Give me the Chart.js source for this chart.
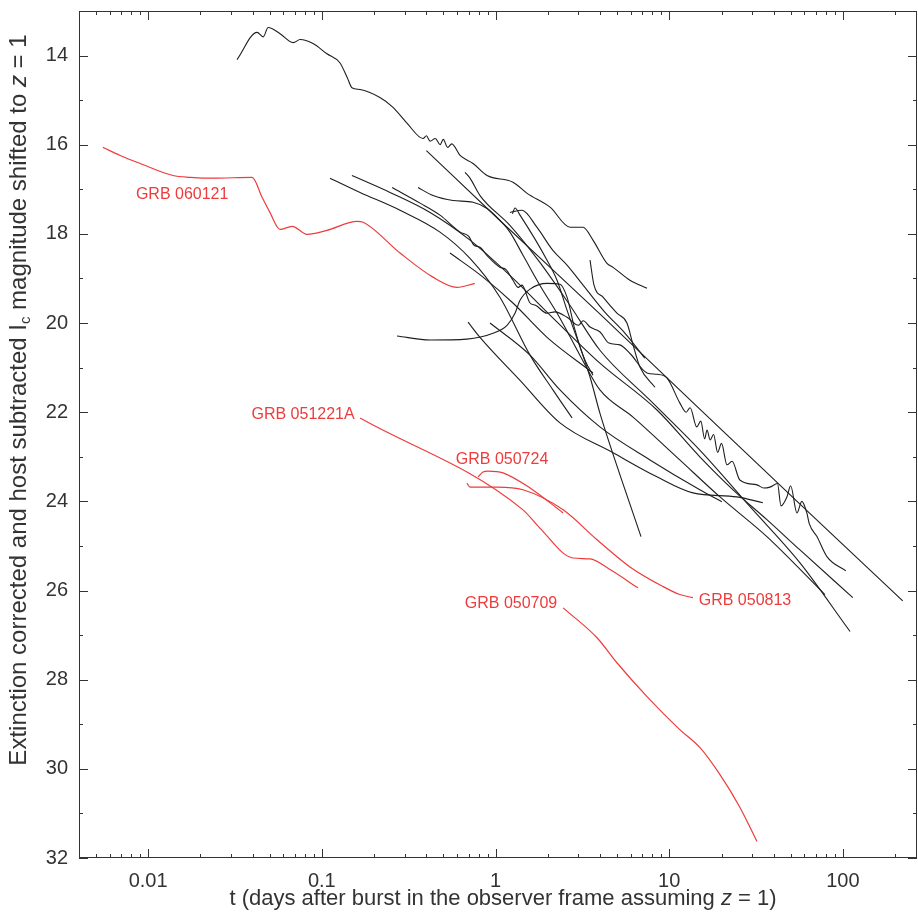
<!DOCTYPE html>
<html>
<head>
<meta charset="utf-8">
<script src="https://cdn.jsdelivr.net/npm/chart.js@4.4.1/dist/chart.umd.min.js"></script>
<style>
  body { margin: 0; background: #fff; }
  canvas { display: block; }
</style>
</head>
<body>
<canvas id="lcChart" width="918" height="915"></canvas>
<script>
// axis ticks
const xTicks = [0.01, 0.1, 1, 10, 100];
const yTicks = [14, 16, 18, 20, 22, 24, 26, 28, 30, 32];

// red light curves (short bursts), [t in days, mag]
const grb060121 = [[0.0055,16.06],[0.0069,16.24],[0.009,16.42],[0.0139,16.69],[0.0175,16.73],[0.0237,16.75],[0.0397,16.73],[0.0453,17.18],[0.050,17.5],[0.0575,17.90],[0.0675,17.83],[0.0822,18.01],[0.107,17.92],[0.160,17.72],[0.173,17.74],[0.282,18.43],[0.436,18.97],[0.60,19.20],[0.76,19.11]];
const grb051221A = [[0.166,22.13],[1.44,24.19],[1.8,24.6],[2.79,25.27],[3.5,25.29],[4.56,25.53],[6.61,25.94]];
const grb050724 = [[0.793,23.45],[0.847,23.34],[0.905,23.32],[1.105,23.36],[1.58,23.70],[2.45,24.26]];
const grb050813 = [[0.685,23.59],[0.713,23.68],[1.02,23.68],[1.44,23.74],[2.45,24.19],[3.84,24.86],[5.94,25.47],[9.2,25.91],[11.5,26.09],[13.7,26.16]];
const grb050709 = [[2.45,26.39],[3.84,27.06],[5.0,27.62],[7.45,28.38],[11.5,29.12],[15.0,29.52],[19.6,30.13],[25.5,30.86],[32.0,31.63]];

// black light curves (long bursts)
const lcA = [[0.0325,14.09],[0.0424,13.48],[0.046,13.58],[0.0491,13.37],[0.0575,13.51],[0.0685,13.71],[0.075,13.64],[0.089,13.73],[0.107,13.96],[0.127,14.16],[0.14,14.49],[0.149,14.72],[0.166,14.76],[0.216,14.94],[0.257,15.16],[0.31,15.52],[0.383,15.86],[0.40,15.80],[0.42,15.92],[0.45,15.86],[0.48,16.0],[0.50,15.88],[0.53,16.06],[0.56,15.98],[0.625,16.24],[0.743,16.42],[0.894,16.69],[1.26,16.84],[1.52,17.09],[2.06,17.40],[2.69,17.85],[3.19,17.85],[3.64,18.14],[4.38,18.66],[4.75,18.75],[5.94,19.04],[7.45,19.22]];
const lcB = [[0.40,16.13],[1.06,17.70],[4.0,19.80],[15.0,21.93],[56.6,24.06],[221,26.23]];
const lcJ = [[0.254,16.96],[0.368,17.31],[0.479,17.58],[0.625,17.96],[0.70,18.05],[0.75,18.25],[0.814,18.30],[0.9,18.5],[1.06,18.75],[1.15,18.8],[1.26,19.04],[1.35,19.2],[1.42,19.15],[1.58,19.55],[1.7,19.6],[1.98,19.78],[2.2,19.75],[2.58,19.87],[3.0,20.05],[3.2,19.95],[3.5,20.09],[4.0,20.2],[4.5,20.45],[5.2,20.49],[6.0,20.7],[7.45,21.12],[8.5,21.15],[9.7,21.23],[11.5,21.79],[12.5,22.0],[13.2,21.9],[14.4,22.33],[15.2,22.2],[16,22.6],[16.5,22.4],[17.2,22.62],[18,22.5],[19,22.9],[20,22.7],[21.5,23.18],[23,23.1],[25.5,23.52],[32,23.63],[35,23.7],[38,23.68],[42,23.6],[44,24.1],[47.6,23.9],[50,23.65],[54.4,24.26],[58,24.0],[62,24.26],[64,24.5],[70.9,24.79],[80.9,25.24],[104,25.56]];
const lcK = [[0.667,16.62],[0.713,16.75],[0.814,17.14],[1.21,17.81],[1.80,18.64],[2.68,19.60],[3.99,20.61],[7.75,21.73],[15.0,22.85],[29.2,24.12],[56.6,25.38],[110,26.92]];
const lcC1 = [[0.1115,16.75],[0.166,17.07],[0.282,17.47],[0.479,17.96],[0.713,18.55],[1.06,19.42],[1.58,20.72],[2.14,21.50],[2.76,22.13]];
const lcC2 = [[0.149,16.69],[0.247,17.07],[0.42,17.52],[0.713,18.14],[1.21,18.93],[2.06,19.82],[3.99,20.90],[8.5,21.95],[15.0,23.00],[23.3,23.74],[36.5,24.41],[56.6,25.09],[114,26.16]];
const lcC3 = [[0.358,16.96],[0.437,17.14],[0.569,17.25],[0.742,17.29],[0.894,17.43],[1.02,17.63],[1.21,17.96],[1.44,18.48],[1.80,19.15],[2.35,19.89],[3.06,20.72],[3.99,21.50],[6.19,22.11],[11.5,23.07],[19.6,23.90],[36.5,24.79],[78.8,26.09]];
const lcD = [[0.271,20.29],[0.42,20.38],[0.685,20.36],[0.967,20.23],[1.165,20.05],[1.295,19.78],[1.384,19.49],[1.58,19.24],[1.98,19.11],[2.35,19.13],[2.58,19.42],[2.87,20.16],[3.27,20.83],[3.64,21.17]];
const lcE = [[0.695,19.98],[0.814,20.32],[1.38,21.28],[2.35,22.24],[4.75,22.91],[8.5,23.45],[13.7,23.81],[24.5,23.90],[34.6,24.03]];
const lcF = [[0.547,18.43],[0.847,18.97],[1.26,19.55],[1.98,20.32],[3.64,21.12]];
const lcG = [[0.93,20.00],[1.58,20.72],[2.35,21.50],[3.99,22.33],[7.75,23.07],[15.0,23.74],[20.1,24.01]];
const lcH = [[1.21,17.52],[1.42,17.47],[1.73,17.85],[2.14,18.37],[2.58,18.70],[3.27,19.20],[4.27,19.76],[5.57,20.23],[7.25,20.79]];
const lcS1 = [[1.25,17.55],[1.295,17.42],[1.384,17.58],[1.98,18.59],[2.26,19.04],[2.58,19.71],[3.5,21.21],[3.99,22.02],[5.21,23.41],[6.88,24.79]];
const lcS2 = [[3.5,18.59],[3.69,19.15],[4.16,19.42],[5.0,19.78],[5.71,20.0],[6.19,20.49],[6.79,20.99],[8.28,21.44]];

const redCurves = [grb060121, grb051221A, grb050724, grb050813, grb050709];
const blackCurves = [lcA, lcB, lcJ, lcK, lcC1, lcC2, lcC3, lcD, lcE, lcF, lcG, lcH, lcS1, lcS2];

// burst labels
const labelNames = ['GRB 060121', 'GRB 051221A', 'GRB 050724', 'GRB 050709', 'GRB 050813'];
const labelT = [0.0157, 0.078, 1.09, 1.228, 27.3];
const labelMag = [17.11, 22.06, 23.07, 26.30, 26.23];

const RED = '#ee3b3b';
const FONT = "'Liberation Sans', Arial, sans-serif";

const toPoints = (arr) => arr.map(p => ({ x: p[0], y: p[1] }));

const datasets = [
  ...blackCurves.map(c => ({ data: toPoints(c), borderColor: '#1e1e1e', borderWidth: 1.1 })),
  ...redCurves.map(c => ({ data: toPoints(c), borderColor: RED, borderWidth: 1.2 }))
].map(d => ({ ...d, showLine: true, pointRadius: 0, cubicInterpolationMode: 'monotone', fill: false }));

const frame = {
  id: 'frame',
  afterDraw(chart) {
    const { ctx, chartArea: a, scales: { x, y } } = chart;
    ctx.save();
    ctx.strokeStyle = '#333';
    ctx.lineWidth = 1;
    ctx.strokeRect(a.left + 0.5, a.top + 0.5, a.right - a.left - 1, a.bottom - a.top - 1);

    ctx.beginPath();
    // x ticks, top and bottom, pointing inward
    for (let e = -3; e <= 2; e++) {
      for (let k = 1; k <= 9; k++) {
        const v = k * Math.pow(10, e);
        if (v < x.min || v > x.max) continue;
        const px = Math.round(x.getPixelForValue(v)) + 0.5;
        const len = k === 1 ? 9 : 4;
        ctx.moveTo(px, a.bottom); ctx.lineTo(px, a.bottom - len);
        ctx.moveTo(px, a.top); ctx.lineTo(px, a.top + len);
      }
    }
    // y ticks, left and right
    for (let m = 13; m <= 32; m++) {
      const py = Math.round(y.getPixelForValue(m)) + 0.5;
      const len = m % 2 === 0 ? 9 : 4;
      ctx.moveTo(a.left, py); ctx.lineTo(a.left + len, py);
      ctx.moveTo(a.right, py); ctx.lineTo(a.right - len, py);
    }
    ctx.stroke();

    // axis titles
    ctx.fillStyle = '#333';
    ctx.textBaseline = 'middle';
    const drawParts = (parts, cx, cy) => {
      let total = 0;
      parts.forEach(p => { ctx.font = p.font; p.w = ctx.measureText(p.text).width; total += p.w; });
      let pos = cx - total / 2;
      parts.forEach(p => {
        ctx.font = p.font;
        ctx.textAlign = 'left';
        ctx.fillText(p.text, pos, cy + (p.dy || 0));
        pos += p.w;
      });
    };
    drawParts([
      { text: 't (days after burst in the observer frame assuming ', font: `22px ${FONT}` },
      { text: 'z', font: `italic 22px ${FONT}` },
      { text: ' = 1)', font: `22px ${FONT}` }
    ], 503, 899);

    ctx.save();
    ctx.translate(19, 400);
    ctx.rotate(-Math.PI / 2);
    drawParts([
      { text: 'Extinction corrected and host subtracted I', font: `24px ${FONT}` },
      { text: 'c', font: `15px ${FONT}`, dy: 7 },
      { text: ' magnitude shifted to ', font: `24px ${FONT}` },
      { text: 'z', font: `italic 24px ${FONT}` },
      { text: ' = 1', font: `24px ${FONT}` }
    ], 0, 0);
    ctx.restore();

    // burst labels
    ctx.fillStyle = RED;
    ctx.font = `16px ${FONT}`;
    ctx.textAlign = 'center';
    labelNames.forEach((name, i) => {
      ctx.fillText(name, x.getPixelForValue(labelT[i]), y.getPixelForValue(labelMag[i]));
    });
    ctx.restore();
  }
};

new Chart(document.getElementById('lcChart'), {
  type: 'scatter',
  data: { datasets },
  options: {
    responsive: false,
    devicePixelRatio: 1,
    animation: false,
    layout: { padding: { top: 11, right: 1, left: 0, bottom: 0 } },
    plugins: { legend: { display: false }, tooltip: { enabled: false } },
    scales: {
      x: {
        type: 'logarithmic',
        min: 0.004,
        max: 267,
        grid: { display: false, drawTicks: false },
        border: { display: false },
        afterBuildTicks: (scale) => { scale.ticks = xTicks.map(v => ({ value: v })); },
        afterFit: (scale) => { scale.height = 57; scale.paddingLeft = 0; scale.paddingRight = 0; },
        ticks: {
          autoSkip: false,
          maxRotation: 0,
          padding: 11,
          color: '#333',
          font: { family: FONT, size: 20 },
          callback: (v) => String(v)
        }
      },
      y: {
        type: 'linear',
        reverse: true,
        min: 13,
        max: 32,
        grid: { display: false, drawTicks: false },
        border: { display: false },
        afterBuildTicks: (scale) => { scale.ticks = yTicks.map(v => ({ value: v })); },
        afterFit: (scale) => { scale.width = 79; scale.paddingTop = 0; scale.paddingBottom = 0; },
        ticks: {
          padding: 11,
          color: '#333',
          font: { family: FONT, size: 20 }
        }
      }
    }
  },
  plugins: [frame]
});
</script>
</body>
</html>
